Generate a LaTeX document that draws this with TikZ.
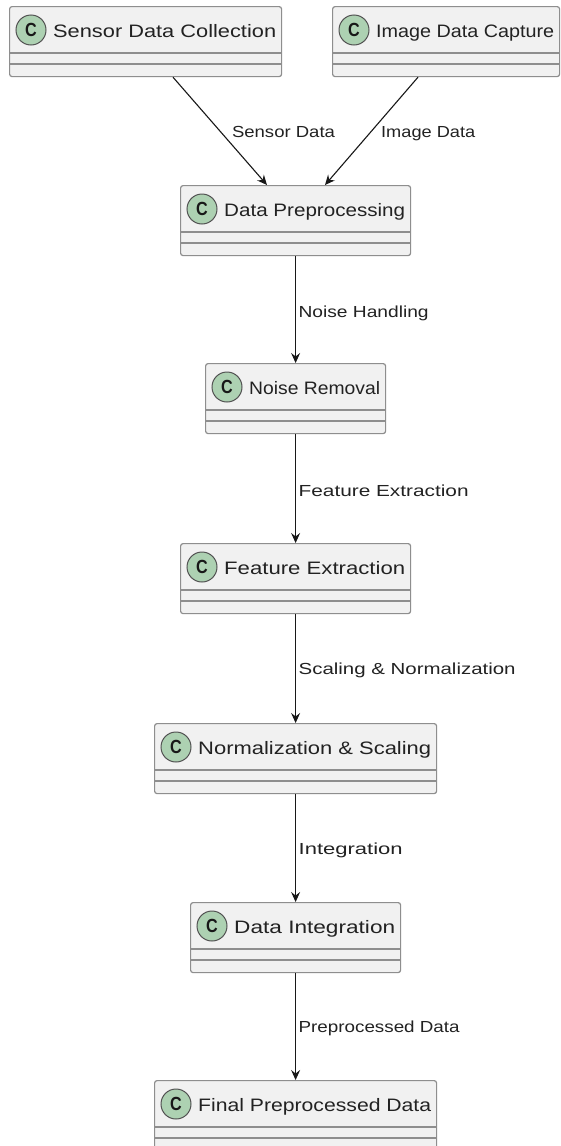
\documentclass[tikz,border=0pt]{standalone}
\usepackage{graphicx}
\usepackage{fontspec}
\setmainfont{Liberation Sans}
\newfontfamily\cfont{Liberation Sans}[FakeStretch=0.85]
\usetikzlibrary{arrows.meta}
\definecolor{boxfill}{HTML}{F1F1F1}
\definecolor{boxline}{HTML}{8E8E8E}
\definecolor{circfill}{HTML}{ADD1B2}
\definecolor{ink}{HTML}{181818}
\definecolor{txt}{HTML}{222222}
\newcommand\fitw[2]{\resizebox{#1}{\height}{#2}}
\newcommand\umlclass[5]{% name, left, top, width, text
  \node[cls, minimum width=#4pt] (#1) at (#2,#3) {};
  \draw[sep] ([yshift=-47pt]#1.north west) -- ([yshift=-47pt]#1.north east);
  \draw[sep] ([yshift=-58pt]#1.north west) -- ([yshift=-58pt]#1.north east);
  \node[cmark] (#1-c) at ([xshift=22pt,yshift=-24pt]#1.north west) {C};
  \node[ctitle] (#1-t) at ([xshift=44pt,yshift=-31pt]#1.north west)
    {\fitw{\dimexpr#4pt-49pt\relax}{#5}};
}
\begin{document}
\begin{tikzpicture}[x=1pt,y=-1pt,
  cls/.style={draw=boxline, fill=boxfill, rounded corners=2.5pt, line width=1.2pt,
    minimum height=70pt, inner sep=0pt, anchor=north west},
  sep/.style={draw=boxline, line width=1.2pt},
  cmark/.style={circle, draw=ink!75, fill=circfill, line width=1pt, minimum size=30pt,
    inner sep=0pt, text=ink, font=\cfont\bfseries\fontsize{19}{19}\selectfont},
  ctitle/.style={anchor=base west, inner sep=0pt, text=txt,
    font=\fontsize{18}{20}\selectfont},
  flow/.style={draw=ink, line width=1.1pt, -{Stealth[length=10pt,width=9pt,inset=3.5pt]}},
  lbl/.style={anchor=west, inner sep=0pt, text=txt, font=\fontsize{16}{18}\selectfont}
]
\useasboundingbox[fill=white] (0,0) rectangle (561,1146);

\umlclass{sensor}{9}{6}{272}{Sensor Data Collection}
\umlclass{image}{332}{6}{227}{Image Data Capture}
\umlclass{prep}{180}{185}{230}{Data Preprocessing}
\umlclass{noise}{205}{363}{180}{Noise Removal}
\umlclass{feat}{180}{543}{230}{Feature Extraction}
\umlclass{norm}{154}{723}{282}{Normalization \& Scaling}
\umlclass{integ}{190}{902}{210}{Data Integration}
\umlclass{final}{154}{1080}{282}{Final Preprocessed Data}

\draw[flow] ([xshift=164pt]sensor.south west) -- ([xshift=87pt]prep.north west)
  node[lbl, pos=0.505, xshift=11pt] (l1) {\fitw{103pt}{Sensor Data}};
\draw[flow] ([xshift=86pt]image.south west) -- ([xshift=145pt]prep.north west)
  node[lbl, pos=0.52, xshift=11pt] (l2) {\fitw{94pt}{Image Data}};
\draw[flow] (prep.south) -- (noise.north)
  node[lbl, pos=0.535, xshift=2.5pt] (l3) {\fitw{130pt}{Noise Handling}};
\draw[flow] (noise.south) -- (feat.north)
  node[lbl, pos=0.52, xshift=2.5pt] (l4) {\fitw{170pt}{Feature Extraction}};
\draw[flow] (feat.south) -- (norm.north)
  node[lbl, pos=0.52, xshift=2.5pt] (l5) {\fitw{217pt}{Scaling \& Normalization}};
\draw[flow] (norm.south) -- (integ.north)
  node[lbl, pos=0.52, xshift=2.5pt] (l6) {\fitw{104pt}{Integration}};
\draw[flow] (integ.south) -- (final.north)
  node[lbl, pos=0.52, xshift=2.5pt] (l7) {\fitw{161pt}{Preprocessed Data}};
\end{tikzpicture}
\end{document}
